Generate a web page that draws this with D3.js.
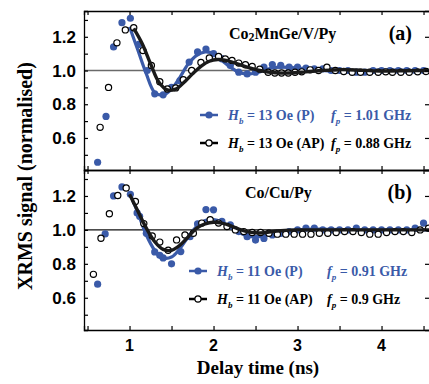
<!DOCTYPE html>
<html>
<head>
<meta charset="utf-8">
<script src="https://cdn.jsdelivr.net/npm/d3@7"></script>
<style>
  body { margin: 0; background: #fff; }
  svg { display: block; }
</style>
</head>
<body>
<div id="chart"></div>
<script>
// ---- data ----
// panel (a) Co2MnGe/V/Py, Hb = 13 Oe
var tA_P = [0.62,0.72,0.81,0.91,1.01,1.11,1.21,1.30,1.40,1.50,1.60,1.71,1.81,1.91,2.00,2.10,2.20,2.30,2.40,2.50,2.60,2.70,2.80,2.90,3.00,3.10,3.20,3.30,3.40,3.50,3.60,3.70,3.80,3.90,4.00,4.10,4.20,4.30,4.40,4.50];
var vA_P = [0.456,0.728,1.14,1.284,1.31,1.155,1.0,0.862,0.856,0.90,0.94,1.05,1.11,1.127,1.10,1.07,1.03,0.99,0.98,0.99,1.02,1.035,1.03,1.02,1.02,1.015,1.01,1.01,1.0,1.0,1.0,0.99,0.99,1.0,1.0,1.0,1.0,1.0,1.0,1.0];
var tA_AP = [0.65,0.75,0.85,0.95,1.05,1.16,1.26,1.36,1.45,1.55,1.64,1.74,1.85,1.95,2.06,2.14,2.22,2.30,2.38,2.46,2.55,2.65,2.73,2.81,2.89,2.97,3.05,3.15,3.25,3.35,3.45,3.55,3.65,3.75,3.86,3.96,4.05,4.13,4.23,4.33,4.43,4.53];
var vA_AP = [0.663,0.90,1.164,1.241,1.254,1.118,1.03,0.933,0.89,0.897,0.945,1.0,1.048,1.074,1.083,1.069,1.06,1.044,1.034,1.024,1.008,0.99,0.985,0.985,0.985,0.99,0.992,1.004,1.0,1.02,1.0,0.994,0.99,0.99,0.99,0.99,0.992,0.99,0.99,0.99,0.992,0.994];
var fitA_Pt = [1.00,1.10,1.20,1.30,1.40,1.50,1.60,1.70,1.80,1.90,2.00,2.10,2.20,2.30,2.40,2.50,2.60,2.70,2.80,3.00,3.20,3.40,3.60,3.80,4.00,4.20,4.40,4.57];
var fitA_Pv = [1.26,1.12,0.98,0.87,0.855,0.89,0.96,1.04,1.09,1.11,1.10,1.06,1.02,0.99,0.98,0.985,1.0,1.015,1.02,1.015,1.005,0.998,0.998,1.0,1.003,1.002,1.0,1.0];
var fitA_APt = [1.05,1.15,1.25,1.35,1.45,1.55,1.65,1.75,1.85,1.95,2.05,2.15,2.25,2.40,2.55,2.70,2.90,3.10,3.30,3.50,3.70,3.90,4.10,4.30,4.57];
var fitA_APv = [1.25,1.16,1.04,0.93,0.885,0.89,0.93,0.98,1.025,1.055,1.065,1.06,1.045,1.02,1.0,0.988,0.985,0.992,1.0,1.005,1.003,0.998,0.997,0.999,1.0];

// panel (b) Co/Cu/Py, Hb = 11 Oe
var tB_P = [0.62,0.71,0.81,0.91,1.01,1.09,1.12,1.20,1.30,1.36,1.40,1.50,1.61,1.72,1.81,1.91,2.00,2.10,2.20,2.30,2.40,2.50,2.60,2.70,2.80,2.90,3.00,3.10,3.20,3.30,3.40,3.50,3.60,3.70,3.80,3.90,4.00,4.10,4.20,4.30,4.40,4.50];
var vB_P = [0.68,0.976,1.20,1.253,1.21,1.10,1.08,0.98,0.87,0.85,0.835,0.80,0.872,0.96,1.035,1.12,1.118,1.05,1.03,0.99,0.96,0.94,0.95,0.97,0.98,0.99,1.0,1.01,1.01,1.0,1.0,1.0,1.0,1.01,1.0,1.0,1.0,1.0,1.0,1.0,1.01,1.04];
var tB_AP = [0.57,0.66,0.76,0.86,0.96,1.07,1.17,1.27,1.36,1.46,1.56,1.66,1.76,1.86,1.96,2.06,2.16,2.26,2.36,2.46,2.56,2.66,2.76,2.86,2.96,3.06,3.16,3.26,3.36,3.46,3.56,3.66,3.76,3.86,3.96,4.06,4.16,4.26,4.36,4.46,4.56];
var vB_AP = [0.738,0.951,1.095,1.203,1.247,1.168,1.037,0.964,0.928,0.88,0.941,0.97,0.98,1.04,1.06,1.04,1.02,1.0,0.99,0.985,0.985,0.98,0.975,0.975,0.975,0.975,0.975,0.98,0.98,0.985,0.99,0.99,0.985,0.975,0.975,0.985,0.99,0.99,0.985,1.0,1.01];
var fitB_Pt = [1.00,1.10,1.20,1.30,1.40,1.50,1.60,1.70,1.80,1.90,2.00,2.10,2.20,2.30,2.40,2.50,2.60,2.70,2.80,3.00,3.20,3.40,3.60,3.80,4.00,4.20,4.40,4.57];
var fitB_Pv = [1.22,1.10,0.97,0.88,0.835,0.84,0.89,0.96,1.02,1.055,1.06,1.045,1.015,0.985,0.965,0.96,0.965,0.98,0.99,1.0,1.005,1.003,1.0,0.999,1.0,1.0,1.0,1.0];
var fitB_APt = [1.00,1.10,1.20,1.30,1.40,1.50,1.60,1.70,1.80,1.90,2.00,2.10,2.20,2.30,2.40,2.50,2.60,2.70,2.80,3.00,3.20,3.40,3.60,3.80,4.00,4.20,4.40,4.57];
var fitB_APv = [1.21,1.11,1.01,0.93,0.885,0.88,0.91,0.96,1.01,1.035,1.045,1.04,1.025,1.005,0.99,0.983,0.983,0.99,0.995,1.0,1.0,1.0,1.0,1.0,1.0,1.0,1.0,1.0];

var xTicks = [1, 2, 3, 4];
var yTicks = [0.6, 0.8, 1.0, 1.2];

var blue = '#3a5aa8';
var dark = '#1a1a1a';

var width = 429, height = 384;
var left = 84, right = 430;

var svg = d3.select('#chart').append('svg')
    .attr('width', width)
    .attr('height', height);

var x = d3.scaleLinear().domain([0.458, 4.577]).range([left, right]);

var serif = '"Liberation Serif", "Times New Roman", serif';
var sans = '"Liberation Sans", Arial, sans-serif';

function zip(ts, vs) {
    return ts.map(function (t, i) { return [t, vs[i]]; });
}

function panel(top, bottom, cfg) {
    var y = d3.scaleLinear().domain([0.41, 1.353]).range([bottom, top]);
    var g = svg.append('g');

    // reference line at 1
    g.append('line')
        .attr('x1', left).attr('x2', right)
        .attr('y1', y(1)).attr('y2', y(1))
        .attr('stroke', cfg.refColor).attr('stroke-width', 1.3);

    var line = d3.line()
        .x(function (d) { return x(d[0]); })
        .y(function (d) { return y(d[1]); })
        .curve(d3.curveCatmullRom);

    // blue points and fit
    g.append('g').selectAll('circle')
        .data(zip(cfg.tP, cfg.vP))
        .enter().append('circle')
        .attr('cx', function (d) { return x(d[0]); })
        .attr('cy', function (d) { return y(d[1]); })
        .attr('r', 3.6)
        .attr('fill', blue);
    g.append('path')
        .datum(zip(cfg.fitPt, cfg.fitPv))
        .attr('fill', 'none')
        .attr('stroke', blue)
        .attr('stroke-width', 3.2)
        .attr('d', line);

    // open circles and black fit
    g.append('g').selectAll('circle')
        .data(zip(cfg.tAP, cfg.vAP))
        .enter().append('circle')
        .attr('cx', function (d) { return x(d[0]); })
        .attr('cy', function (d) { return y(d[1]); })
        .attr('r', 3.1)
        .attr('fill', '#fff')
        .attr('stroke', '#000')
        .attr('stroke-width', 1.2);
    g.append('path')
        .datum(zip(cfg.fitAPt, cfg.fitAPv))
        .attr('fill', 'none')
        .attr('stroke', dark)
        .attr('stroke-width', 3.4)
        .attr('d', line);

    // frame ticks
    var yAxisL = d3.axisLeft(y).tickValues(d3.range(0.5, 1.31, 0.1))
        .tickSize(-4).tickFormat('');
    g.append('g').attr('transform', 'translate(' + left + ',0)').call(yAxisL);
    var yAxisR = d3.axisRight(y).tickValues(yTicks).tickSize(-5).tickFormat('');
    g.append('g').attr('transform', 'translate(' + right + ',0)').call(yAxisR);
    var xTop = d3.axisTop(x).tickValues(d3.range(0.5, 4.51, 0.5)).tickSize(-4).tickFormat('');
    g.append('g').attr('transform', 'translate(0,' + top + ')').call(xTop);
    var xBot = d3.axisBottom(x).tickValues(d3.range(0.5, 4.51, 0.5)).tickSize(-4).tickFormat('');
    g.append('g').attr('transform', 'translate(0,' + bottom + ')').call(xBot);

    g.selectAll('.domain').attr('stroke', '#000').attr('stroke-width', 1.3);
    g.selectAll('.tick line').attr('stroke', '#000').attr('stroke-width', 1.2);

    // y tick labels
    g.append('g').selectAll('text')
        .data(yTicks)
        .enter().append('text')
        .attr('x', left - 8)
        .attr('y', function (d) { return y(d) + 6; })
        .attr('text-anchor', 'end')
        .style('font-family', sans)
        .style('font-weight', 'bold')
        .style('font-size', '17px')
        .text(function (d) { return d.toFixed(1); });

    // sample name
    var name = g.append('text')
        .attr('x', cfg.nameX).attr('y', top + 28)
        .style('font-family', serif).style('font-weight', 'bold').style('font-size', '16px');
    cfg.name.forEach(function (p) {
        var ts = name.append('tspan').text(p[0]);
        if (p[1]) ts.attr('dy', 2).style('font-size', '12px');
        else if (name.selectAll('tspan').size() > 1) ts.attr('dy', -2);
    });

    g.append('text')
        .attr('x', 412).attr('y', top + 29)
        .attr('text-anchor', 'end')
        .style('font-family', serif).style('font-weight', 'bold').style('font-size', '20px')
        .text(cfg.tag);

    // legend
    cfg.legend.forEach(function (row, i) {
        var ly = top + cfg.legendY[i];
        var col = i === 0 ? blue : '#000';
        g.append('line')
            .attr('x1', cfg.legX - 9).attr('x2', cfg.legX + 9)
            .attr('y1', ly).attr('y2', ly)
            .attr('stroke', col).attr('stroke-width', 2.5);
        if (i === 0) {
            g.append('circle').attr('cx', cfg.legX).attr('cy', ly).attr('r', 3.6).attr('fill', blue);
        } else {
            g.append('circle').attr('cx', cfg.legX).attr('cy', ly).attr('r', 3.1)
                .attr('fill', '#fff').attr('stroke', '#000').attr('stroke-width', 1.2);
        }
        var t1 = g.append('text').attr('x', cfg.legTextX).attr('y', ly + 5)
            .attr('fill', col)
            .style('font-family', serif).style('font-weight', 'bold').style('font-size', '14px');
        t1.append('tspan').style('font-style', 'italic').text('H');
        t1.append('tspan').style('font-style', 'italic').style('font-size', '9px').attr('dy', 4).text('b');
        t1.append('tspan').attr('dy', -4).text(' = ' + row[0]);
        var t2 = g.append('text').attr('x', cfg.legFX).attr('y', ly + 5)
            .attr('fill', col)
            .style('font-family', serif).style('font-weight', 'bold').style('font-size', '14px');
        t2.append('tspan').style('font-style', 'italic').text('f');
        t2.append('tspan').style('font-style', 'italic').style('font-size', '9px').attr('dy', 4).text('p');
        t2.append('tspan').attr('dy', -4).text(' = ' + row[1]);
    });

    return y;
}

panel(11, 170, {
    refColor: '#6a6a6a',
    tP: tA_P, vP: vA_P, tAP: tA_AP, vAP: vA_AP,
    fitPt: fitA_Pt, fitPv: fitA_Pv, fitAPt: fitA_APt, fitAPv: fitA_APv,
    name: [['Co'], ['2', true], ['MnGe/V/Py']], nameX: 229, tag: '(a)',
    legend: [['13 Oe (P)', '1.01 GHz'], ['13 Oe (AP)', '0.88 GHz']],
    legendY: [104, 132], legX: 209, legTextX: 228, legFX: 331
});

panel(170, 330, {
    refColor: '#111',
    tP: tB_P, vP: vB_P, tAP: tB_AP, vAP: vB_AP,
    fitPt: fitB_Pt, fitPv: fitB_Pv, fitAPt: fitB_APt, fitAPv: fitB_APv,
    name: [['Co/Cu/Py']], nameX: 245, tag: '(b)',
    legend: [['11 Oe (P)', '0.91 GHz'], ['11 Oe (AP)', '0.9 GHz']],
    legendY: [101, 129], legX: 198, legTextX: 217, legFX: 327
});

// x tick labels
svg.append('g').selectAll('text')
    .data(xTicks)
    .enter().append('text')
    .attr('x', function (d) { return x(d); })
    .attr('y', 351)
    .attr('text-anchor', 'middle')
    .style('font-family', sans).style('font-weight', 'bold').style('font-size', '16px')
    .text(function (d) { return d; });

// axis titles
svg.append('text')
    .attr('x', 258).attr('y', 374)
    .attr('text-anchor', 'middle')
    .style('font-family', serif).style('font-weight', 'bold').style('font-size', '19px')
    .text('Delay time (ns)');

svg.append('text')
    .attr('transform', 'translate(32,176) rotate(-90)')
    .attr('text-anchor', 'middle')
    .style('font-family', serif).style('font-weight', 'bold').style('font-size', '20px')
    .text('XRMS signal (normalised)');
</script>
</body>
</html>
